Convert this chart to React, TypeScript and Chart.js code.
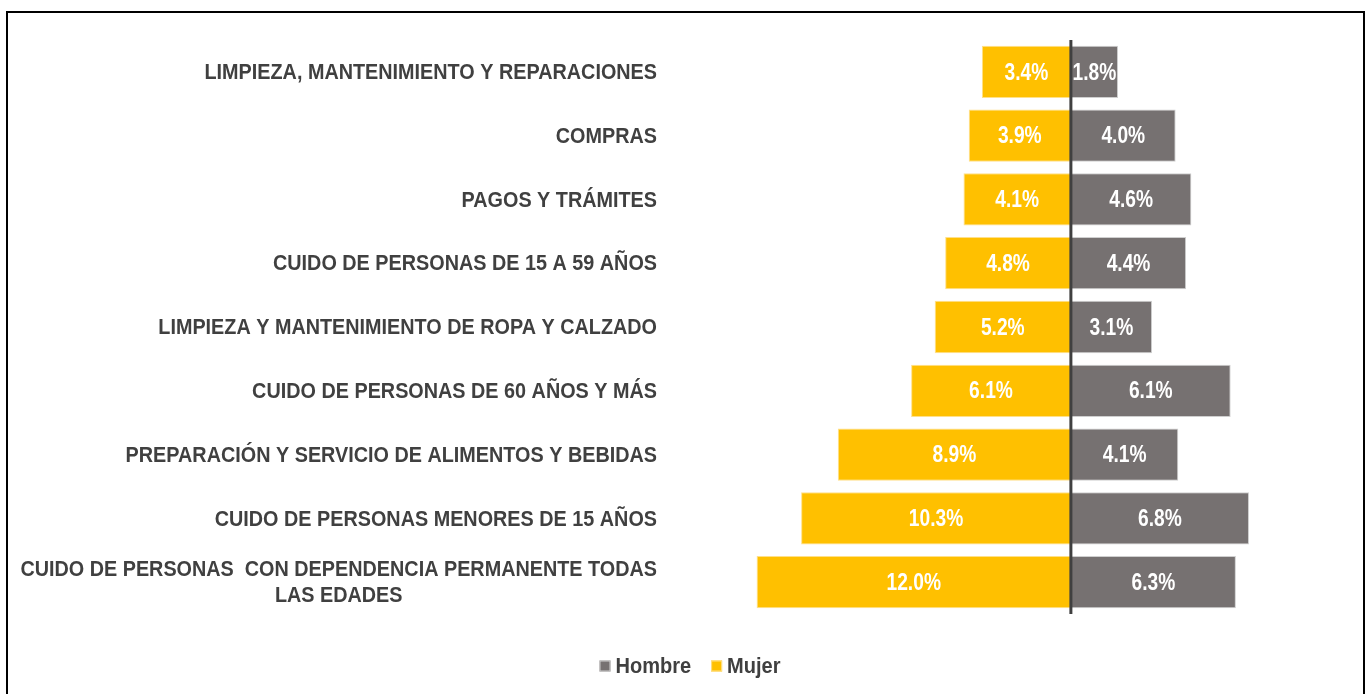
import React, { useEffect, useRef } from "react";
import { Chart, registerables } from "chart.js";

Chart.register(...registerables);

const categories: (string | string[])[] = [
  "LIMPIEZA, MANTENIMIENTO Y REPARACIONES",
  "COMPRAS",
  "PAGOS Y TRÁMITES",
  "CUIDO DE PERSONAS DE 15 A 59 AÑOS",
  "LIMPIEZA Y MANTENIMIENTO DE ROPA Y CALZADO",
  "CUIDO DE PERSONAS DE 60 AÑOS Y MÁS",
  "PREPARACIÓN Y SERVICIO DE ALIMENTOS Y BEBIDAS",
  "CUIDO DE PERSONAS MENORES DE 15 AÑOS",
  ["CUIDO DE PERSONAS  CON DEPENDENCIA PERMANENTE TODAS", "LAS EDADES"],
];

const hombre = [1.8, 4.0, 4.6, 4.4, 3.1, 6.1, 4.1, 6.8, 6.3];
const mujer = [3.4, 3.9, 4.1, 4.8, 5.2, 6.1, 8.9, 10.3, 12.0];

const FONT = "'Liberation Sans', Arial, sans-serif";
const TEXT = "#404040";
const HOMBRE_COLOR = "#767171";
const MUJER_COLOR = "#FFC000";

function scaledText(ctx: any, text: string, x: number, y: number, sx: number, align: string) {
  ctx.save();
  ctx.translate(x, y);
  ctx.scale(sx, 1);
  ctx.textAlign = align;
  ctx.fillText(text, 0, 0);
  ctx.restore();
}

const labelsPlugin = {
  id: "customLabels",
  afterDatasetsDraw(chart: any) {
    const ctx = chart.ctx;
    const area = chart.chartArea;
    const xs = chart.scales.x;
    const ys = chart.scales.y;
    ctx.save();
    // value labels
    ctx.font = `bold 24px ${FONT}`;
    ctx.fillStyle = "#ffffff";
    ctx.textBaseline = "middle";
    chart.data.datasets.forEach((ds: any, di: number) => {
      const meta = chart.getDatasetMeta(di);
      meta.data.forEach((bar: any, i: number) => {
        const v = Math.abs(ds.data[i]);
        const cx = (bar.x + bar.base) / 2;
        scaledText(ctx, v.toFixed(1) + "%", cx, bar.y + 1, 0.8, "center");
      });
    });
    // zero line
    const x0 = xs.getPixelForValue(0);
    ctx.strokeStyle = "#404040";
    ctx.lineWidth = 3;
    ctx.beginPath();
    ctx.moveTo(x0, area.top);
    ctx.lineTo(x0, area.bottom);
    ctx.stroke();
    // category labels
    const SX = 0.88;
    ctx.font = `bold 22.5px ${FONT}`;
    ctx.fillStyle = TEXT;
    ctx.textBaseline = "middle";
    const rightEdge = area.left - 21;
    categories.forEach((lab, i) => {
      const y = ys.getPixelForValue(i) + 1;
      if (Array.isArray(lab)) {
        const widths = lab.map((l) => ctx.measureText(l).width * SX);
        const maxW = Math.max(...widths);
        const center = rightEdge - maxW / 2;
        const lh = 26;
        lab.forEach((l, k) => {
          scaledText(ctx, l, center, y + (k - (lab.length - 1) / 2) * lh, SX, "center");
        });
      } else {
        scaledText(ctx, lab, rightEdge, y, SX, "right");
      }
    });
    // legend
    const LSX = 0.91;
    ctx.font = `bold 22px ${FONT}`;
    const items = chart.data.datasets.map((ds: any) => ({
      text: ds.label,
      color: ds.backgroundColor,
      border: ds.borderColor,
      w: ctx.measureText(ds.label).width * LSX,
    }));
    const box = 11;
    const gapText = 5;
    const gapItem = 20;
    const total = items.reduce((s: number, it: any) => s + box + gapText + it.w, 0) + gapItem * (items.length - 1);
    let lx = chart.width / 2 + 7 - total / 2;
    const ly = 666;
    items.forEach((it: any) => {
      ctx.fillStyle = it.color;
      ctx.fillRect(lx, ly - box / 2, box, box);
      ctx.strokeStyle = it.border;
      ctx.lineWidth = 1;
      ctx.strokeRect(lx + 0.5, ly - box / 2 + 0.5, box - 1, box - 1);
      ctx.fillStyle = TEXT;
      ctx.textBaseline = "middle";
      scaledText(ctx, it.text, lx + box + gapText, ly + 1, LSX, "left");
      lx += box + gapText + it.w + gapItem;
    });
    ctx.restore();
  },
};

export default function App() {
  const canvasRef = useRef<HTMLCanvasElement | null>(null);

  useEffect(() => {
    if (!canvasRef.current) return;
    const chart = new Chart(canvasRef.current, {
      type: "bar",
      data: {
        labels: categories.map((c, i) => String(i)),
        datasets: [
          {
            label: "Hombre",
            data: hombre,
            backgroundColor: HOMBRE_COLOR,
            borderColor: "#cfcfcf",
            borderWidth: 1,
            barPercentage: 0.82,
            categoryPercentage: 1,
          },
          {
            label: "Mujer",
            data: mujer.map((v) => -v),
            backgroundColor: MUJER_COLOR,
            borderColor: "#ffe08a",
            borderWidth: 1,
            barPercentage: 0.82,
            categoryPercentage: 1,
          },
        ],
      },
      options: {
        indexAxis: "y",
        animation: false,
        responsive: true,
        maintainAspectRatio: false,
        layout: { padding: { left: 13, right: 7, top: 40, bottom: 80 } },
        scales: {
          x: {
            stacked: true,
            min: -15,
            max: 11,
            display: false,
          },
          y: {
            stacked: true,
            display: true,
            border: { display: false },
            grid: { display: false, drawTicks: false },
            ticks: { display: false },
            afterFit(scale: any) {
              scale.width = 665;
            },
          },
        },
        plugins: {
          tooltip: { enabled: false },
          legend: { display: false },
        },
      },
      plugins: [labelsPlugin],
    });
    return () => chart.destroy();
  }, []);

  return (
    <div style={{ position: "fixed", left: 0, top: 0, width: 1366, height: 694, background: "#fff" }}>
      <div
        style={{
          position: "absolute",
          left: 6,
          top: 11,
          width: 1355,
          height: 720,
          border: "2px solid #000",
          boxSizing: "content-box",
        }}
      />
      <div style={{ position: "absolute", left: 0, top: 0, width: 1366, height: 694 }}>
        <canvas ref={canvasRef} />
      </div>
    </div>
  );
}
